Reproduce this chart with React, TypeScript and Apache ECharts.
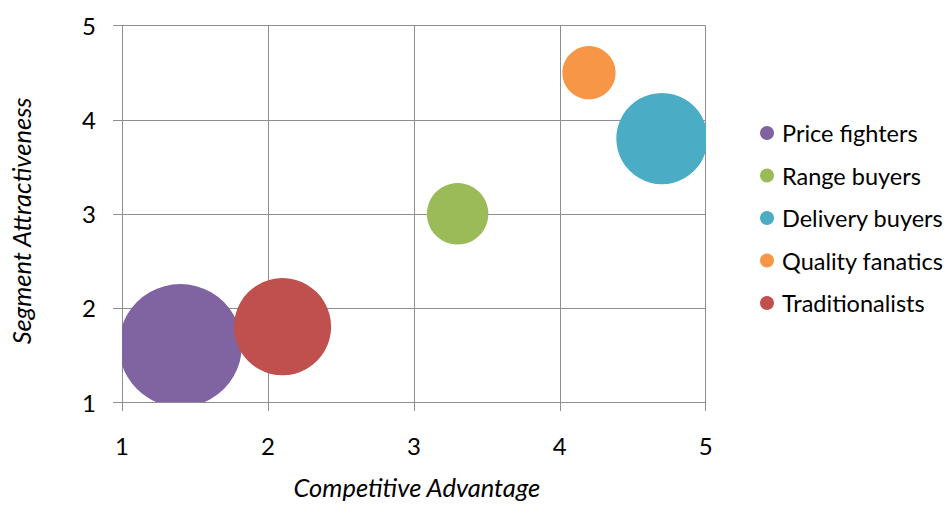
import React, { useEffect, useRef } from "react";
import * as echarts from "echarts";

const segments = ["Price fighters", "Range buyers", "Delivery buyers", "Quality fanatics", "Traditionalists"];
const advantage = [1.4, 3.3, 4.7, 4.2, 2.1];
const attractiveness = [1.6, 3.0, 3.8, 4.5, 1.8];
const segmentSize = [40, 10, 22, 7.5, 25];
const colors = ["#8064A2", "#9BBB59", "#4BACC6", "#F79646", "#C0504D"];
const axisTicks = [1, 2, 3, 4, 5];

export default function App() {
  const ref = useRef<HTMLDivElement>(null);
  useEffect(() => {
    if (!ref.current) return;
    const chart = echarts.init(ref.current, null, { renderer: "svg" });
    const font = "Lato, 'Open Sans', sans-serif";
    const gridColor = "#8e8e8e";
    const axisCommon = {
      type: "value" as const,
      min: axisTicks[0],
      max: axisTicks[axisTicks.length - 1],
      interval: 1,
      axisLine: { show: true, lineStyle: { color: gridColor, width: 1 } },
      axisTick: { show: true, length: 9, inside: false, lineStyle: { color: gridColor } },
      splitLine: { show: true, lineStyle: { color: gridColor, width: 1 } },
      nameLocation: "middle" as const,
    };
    const nameStyle = { fontFamily: font, fontSize: 25.5, fontStyle: "italic", color: "#000" };
    chart.setOption({
      animation: false,
      textStyle: { fontFamily: font },
      grid: { left: 121.7, width: 584, top: 25.7, height: 382.6, containLabel: false },
      legend: {
        orient: "vertical",
        left: 755,
        top: 116,
        icon: "circle",
        itemWidth: 14,
        itemHeight: 14,
        itemGap: 18.5,
        textStyle: { fontFamily: font, fontSize: 23.5, color: "#000", lineHeight: 24, padding: [0, 0, 0, 3] },
        data: segments,
      },
      xAxis: {
        ...axisCommon,
        name: "Competitive Advantage",
        nameGap: 72,
        nameTextStyle: { ...nameStyle, padding: [0, 0, 0, 6] },
        axisLabel: { fontFamily: font, fontSize: 24, color: "#000", margin: 31 },
      },
      yAxis: {
        ...axisCommon,
        name: "Segment Attractiveness",
        nameGap: 88,
        nameRotate: 90,
        nameTextStyle: { ...nameStyle, padding: [0, 14, 0, 0] },
        axisLabel: { fontFamily: font, fontSize: 24, color: "#000", margin: 26 },
      },
      series: segments.map((name, i) => ({
        name,
        type: "custom",
        clip: true,
        itemStyle: { color: colors[i] },
        encode: { x: 0, y: 1 },
        renderItem: (_params: any, api: any) => {
          const p = api.coord([api.value(0), api.value(1)]);
          return {
            type: "circle",
            shape: { cx: p[0], cy: p[1], r: 9.725 * Math.sqrt(api.value(2)) },
            style: { fill: colors[i] },
          };
        },
        data: [[advantage[i], attractiveness[i], segmentSize[i]]],
      })),
    });
    return () => chart.dispose();
  }, []);
  return <div ref={ref} style={{ position: "absolute", left: 0, top: 0, width: 948, height: 505 }} />;
}
